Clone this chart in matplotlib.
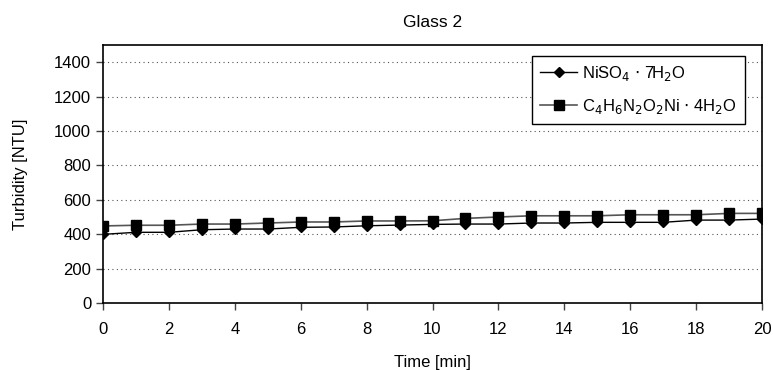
import matplotlib
matplotlib.use("Agg")
import matplotlib.pyplot as plt

plt.rcParams["font.family"] = ["Liberation Sans", "DejaVu Sans"]

time_min = list(range(0, 21))
niso4 = [399, 411, 411, 426, 430, 430, 440, 442, 449, 453, 457,
         459, 459, 465, 465, 469, 469, 469, 482, 482, 488]
dmg_ni = [448, 452, 452, 459, 459, 465, 471, 471, 477, 477, 478,
          492, 500, 507, 507, 507, 513, 513, 513, 521, 521]

fig = plt.figure(figsize=(7.73, 3.70), dpi=100)
ax = fig.add_axes([103 / 773, 1 - 303 / 370, 659 / 773, 258 / 370])

ax.plot(time_min, niso4, color="black", lw=1, marker="D", ms=5,
        mfc="black", mec="black", label=r"NiSO$_4$ $\cdot$ 7H$_2$O", zorder=3)
ax.plot(time_min, dmg_ni, color="#555555", lw=1.2, marker="s", ms=7,
        mfc="black", mec="black",
        label=r"C$_4$H$_6$N$_2$O$_2$Ni $\cdot$ 4H$_2$O", zorder=3)

ax.set_xlim(0, 20)
ax.set_ylim(0, 1500)
ax.set_xticks(range(0, 21, 2))
ax.set_yticks(range(0, 1401, 200))
ax.yaxis.grid(True, linestyle=(0, (1, 3)), color="#555555", lw=0.8)
ax.set_axisbelow(True)
for s in ax.spines.values():
    s.set_color("black")
    s.set_linewidth(1.2)
ax.tick_params(labelsize=12, length=5, width=1, direction="out", color="#444444")
ax.tick_params(axis="x", pad=8.5)

ax.set_title("Glass 2", fontsize=12.5, pad=13)
ax.set_xlabel("Time [min]", fontsize=12, labelpad=13)
ax.set_ylabel("Turbidity [NTU]", fontsize=12, labelpad=19)

leg = ax.legend(loc="upper right", bbox_to_anchor=(0.987, 0.99), fontsize=12,
                fancybox=False, framealpha=1, edgecolor="black",
                handlelength=2.2, handletextpad=0.3, labelspacing=0.8,
                borderpad=0.5)
leg.get_frame().set_linewidth(1.0)

fig.savefig("out.png", dpi=100)
